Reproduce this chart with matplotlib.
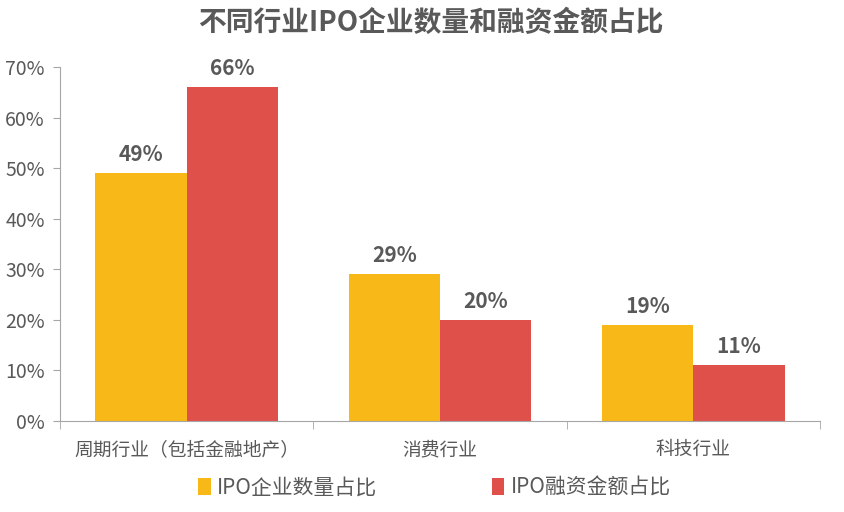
import matplotlib
matplotlib.use("Agg")
import matplotlib.pyplot as plt
import numpy as np
from matplotlib.ticker import FixedLocator, PercentFormatter

plt.rcParams['font.family'] = ['Noto Sans CJK SC', 'DejaVu Sans']

title = "不同行业IPO企业数量和融资金额占比"
categories = ["周期行业（包括金融地产）", "消费行业", "科技行业"]
series_names = ["IPO企业数量占比", "IPO融资金额占比"]
count_share = [49, 29, 19]
amount_share = [66, 20, 11]
colors = ["#F8B817", "#E0504A"]
text_color = "#595959"
axis_color = "#A6A6A6"

fig = plt.figure(figsize=(8.44, 5.12), dpi=100)
ax = fig.add_axes([0.0711, 0.1777, 0.9005, 0.6914])

x = np.arange(len(categories))
w = 0.36
b1 = ax.bar(x - w/2, count_share, w, color=colors[0], label=series_names[0])
b2 = ax.bar(x + w/2, amount_share, w, color=colors[1], label=series_names[1])
for bars, vals in ((b1, count_share), (b2, amount_share)):
    for r, v in zip(bars, vals):
        ax.text(r.get_x() + r.get_width()/2, v + 1.6, f"{v}%", ha="center", va="bottom",
                fontsize=15, fontweight="bold", color=text_color)

ax.set_xlim(-0.5, len(categories) - 0.5)
ax.set_ylim(0, 70)
ax.set_yticks(np.arange(0, 71, 10))
ax.yaxis.set_major_formatter(PercentFormatter(decimals=0))
ax.set_xticks(x)
ax.set_xticklabels(categories)
ax.xaxis.set_minor_locator(FixedLocator(np.arange(-0.5, len(categories), 1)))
ax.tick_params(axis="x", which="major", length=0, pad=13, labelsize=13.5, labelcolor=text_color)
ax.tick_params(axis="x", which="minor", length=6, color=axis_color)
ax.tick_params(axis="y", length=5, color=axis_color, labelsize=14, labelcolor=text_color, pad=6)
for s in ("top", "right"):
    ax.spines[s].set_visible(False)
for s in ("left", "bottom"):
    ax.spines[s].set_color(axis_color)

fig.text(0.51, 0.955, title, ha="center", va="center", fontsize=20, fontweight="bold", color=text_color)

leg = fig.legend(handles=[b1, b2], labels=series_names, loc="center", bbox_to_anchor=(0.515, 0.047),
                 ncol=2, frameon=False, fontsize=15, handlelength=0.6, handleheight=0.9,
                 handletextpad=0.3, columnspacing=5.5)
for t in leg.get_texts():
    t.set_color(text_color)

fig.savefig("out.png", dpi=100)
